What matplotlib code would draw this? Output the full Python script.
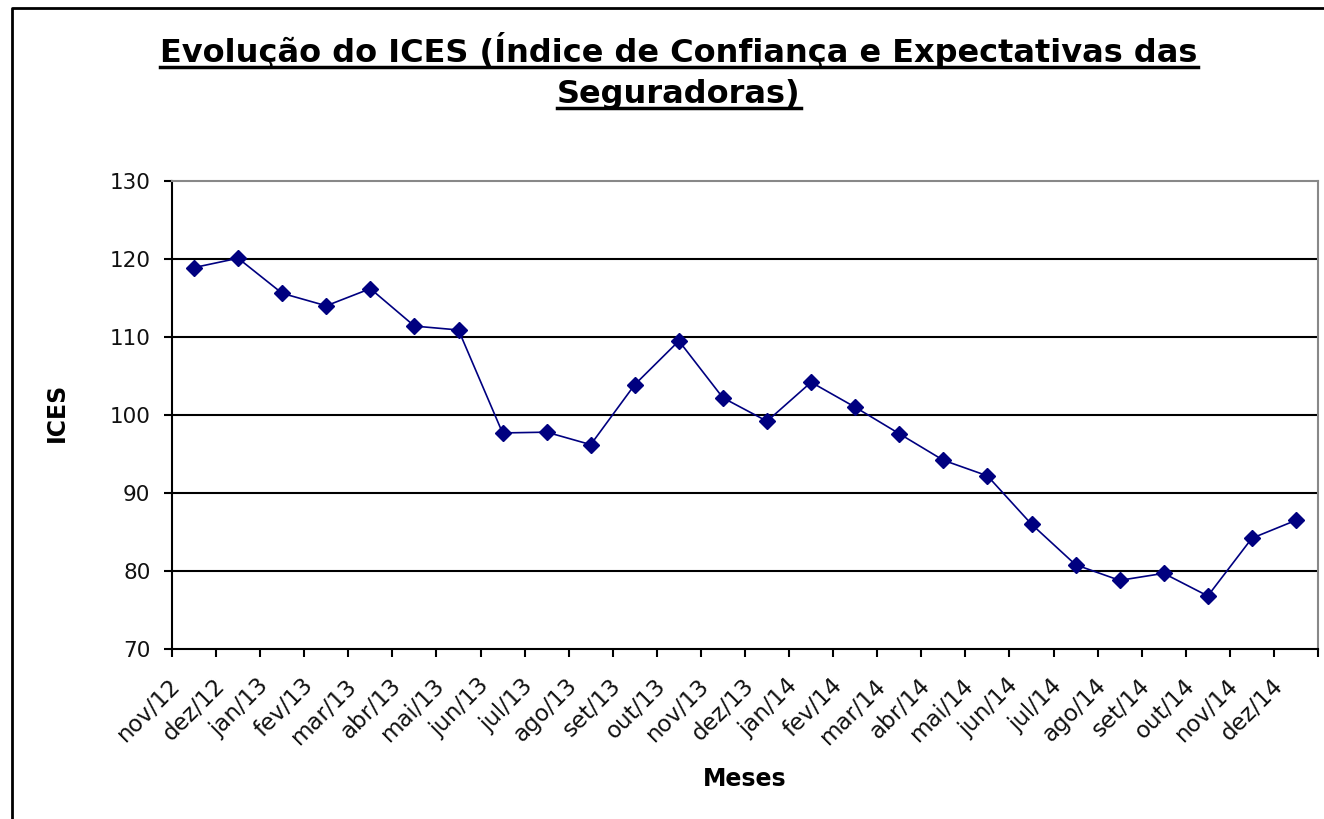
import matplotlib.pyplot as plt
from matplotlib.lines import Line2D
from matplotlib.transforms import ScaledTranslation

months = ["nov/12", "dez/12", "jan/13", "fev/13", "mar/13", "abr/13", "mai/13",
          "jun/13", "jul/13", "ago/13", "set/13", "out/13", "nov/13", "dez/13",
          "jan/14", "fev/14", "mar/14", "abr/14", "mai/14", "jun/14", "jul/14",
          "ago/14", "set/14", "out/14", "nov/14", "dez/14"]
ices = [118.9, 120.1, 115.6, 114.0, 116.2, 111.4, 110.9, 97.7, 97.8, 96.2,
        103.9, 109.5, 102.2, 99.2, 104.2, 101.0, 97.6, 94.2, 92.2, 86.0,
        80.8, 78.8, 79.7, 76.8, 84.2, 86.5]
yticks = [70, 80, 90, 100, 110, 120, 130]

W, H = 1324, 819
fig = plt.figure(figsize=(W / 100, H / 100), dpi=100)
ax = fig.add_axes([172 / W, 1 - 649 / H, (1318 - 172) / W, (649 - 181) / H])

x = list(range(len(months)))
ax.plot(x, ices, color="#000080", lw=1.2, marker="D", markersize=8,
        markerfacecolor="#000080", markeredgecolor="#000080", zorder=3)

ax.set_xlim(-0.5, len(months) - 0.5)
ax.set_ylim(70, 130)
ax.set_yticks(yticks)
ax.set_yticklabels([str(v) for v in yticks], fontsize=15.5, color="#111111")
ax.tick_params(axis="y", direction="out", length=6, width=1.5, pad=9.5)

# marcas nos limites das categorias, rótulos no centro
ax.set_xticks([i - 0.5 for i in range(len(months) + 1)], minor=True)
ax.set_xticks(x)
ax.set_xticklabels(months, rotation=45, ha="right", rotation_mode="anchor",
                   fontsize=16.5, color="#111111")
ax.tick_params(axis="x", which="major", length=0, pad=18)
ax.tick_params(axis="x", which="minor", direction="out", length=6, width=1.5)
shift = ScaledTranslation(-25 / 100, 0, fig.dpi_scale_trans)
for lab in ax.get_xticklabels():
    lab.set_transform(lab.get_transform() + shift)

for v in yticks[1:-1]:
    ax.axhline(v, color="black", lw=1.5, zorder=1)

for side in ["left", "bottom"]:
    ax.spines[side].set_color("black")
    ax.spines[side].set_linewidth(1.5)
for side in ["top", "right"]:
    ax.spines[side].set_color("#888888")
    ax.spines[side].set_linewidth(1.5)

fig.text(57 / W, 1 - 412 / H, "ICES", rotation=90, ha="center", va="center",
         fontsize=17, fontweight="bold")
fig.text(745 / W, 1 - 779 / H, "Meses", ha="center", va="center",
         fontsize=17, fontweight="bold")

# título sublinhado (linha de base e sublinhado em pixels)
title_lines = ["Evolução do ICES (Índice de Confiança e Expectativas das", "Seguradoras)"]
title_base = [62, 103]
texts = []
for t, by in zip(title_lines, title_base):
    texts.append(fig.text(679 / W, 1 - by / H, t, ha="center", va="baseline",
                          fontsize=23, fontweight="bold"))
fig.canvas.draw()
renderer = fig.canvas.get_renderer()
for t, by in zip(texts, title_base):
    bb = t.get_window_extent(renderer).transformed(fig.transFigure.inverted())
    uy = 1 - (by + 5) / H
    fig.add_artist(Line2D([bb.x0, bb.x1], [uy, uy],
                          transform=fig.transFigure, color="black", lw=2.5))

# moldura externa
fig.add_artist(Line2D([12 / W, 12 / W, 1], [0, 1 - 8 / H, 1 - 8 / H],
                      transform=fig.transFigure, color="black", lw=2))

fig.savefig("out.png", dpi=100)
